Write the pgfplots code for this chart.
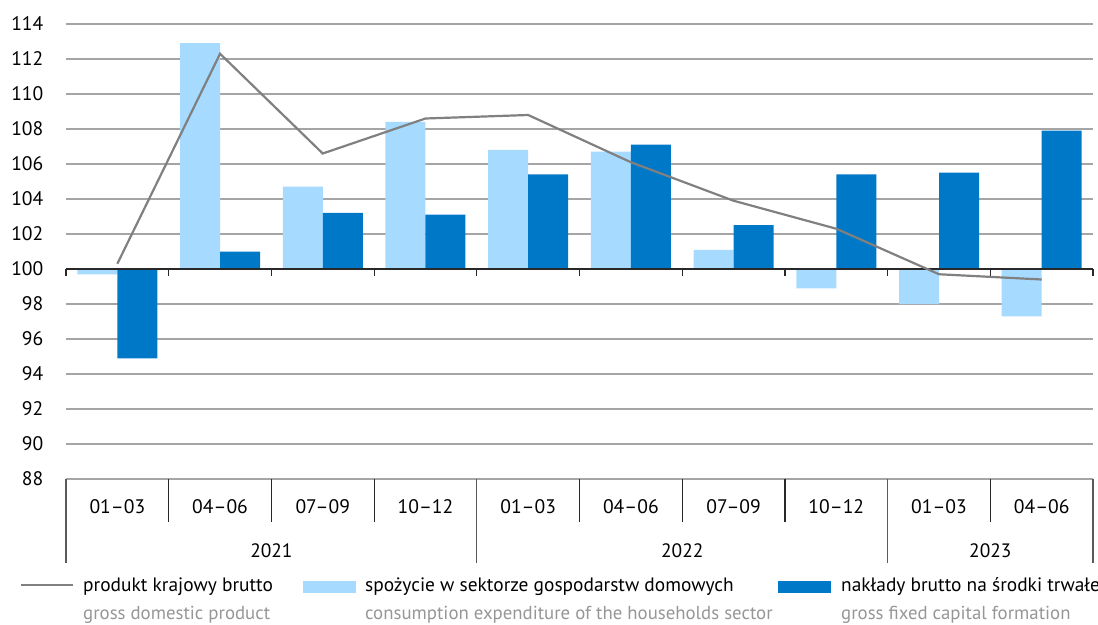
\documentclass[border=0pt]{standalone}
\usepackage{fontspec}
\setmainfont{PT Sans}
\usepackage{pgfplots}
\pgfplotsset{compat=1.18}
\usepackage{pgfplotstable}
\definecolor{lightb}{RGB}{166,219,255}
\definecolor{darkb}{RGB}{0,120,200}
\definecolor{gdpline}{RGB}{128,128,128}
\definecolor{gridc}{RGB}{165,165,165}
\definecolor{engc}{RGB}{150,150,150}
\definecolor{axc}{RGB}{40,40,40}
\definecolor{tabc}{RGB}{90,90,90}

\pgfplotstableread{
x gdp cons inv
0 100.3 99.7 94.9
1 112.3 112.9 101.0
2 106.6 104.7 103.2
3 108.6 108.4 103.1
4 108.8 106.8 105.4
5 106.1 106.7 107.1
6 103.9 101.1 102.5
7 102.3 98.9 105.4
8 99.7 98.0 105.5
9 99.4 97.3 107.9
}\data

\begin{document}
\begin{tikzpicture}[font=\fontsize{19.4}{23}\selectfont]
\useasboundingbox (-66pt,-145pt) rectangle (1032pt,479pt);
\begin{axis}[name=ax, at={(0pt,0pt)}, anchor=south west,
  scale only axis, width=1027pt, height=455pt,
  xmin=-0.5, xmax=9.5, ymin=-12, ymax=14,
  y filter/.expression={y-100},
  clip=false,
  axis line style={draw=none}, major tick length=0pt, tick style={draw=none},
  ytick={-12,-10,-8,-6,-4,-2,0,2,4,6,8,10,12,14},
  yticklabels={88,90,92,94,96,98,100,102,104,106,108,110,112,114},
  ymajorgrids, grid style={gridc, line width=1.2pt},
  xtick={0,1,2,3,4,5,6,7,8,9},
  xticklabels={01–03,04–06,07–09,10–12,01–03,04–06,07–09,10–12,01–03,04–06},
  tick label style={font=\fontsize{19.6}{23}\selectfont},
  xticklabel style={anchor=base, inner sep=0pt, yshift=-34.3pt},
  yticklabel style={anchor=base east, inner sep=0pt, xshift=-22.5pt, yshift=-6.9pt},
  bar width=40pt,
]
\addplot[ybar, bar shift=-20pt, fill=lightb, draw=none] table[x=x, y=cons]{\data};
\addplot[ybar, bar shift=20pt, fill=darkb, draw=none] table[x=x, y=inv]{\data};
% baseline at 100 with downward ticks
\draw[axc, line width=1.6pt] (rel axis cs:0,12/26) -- (rel axis cs:1,12/26);
\pgfplotsinvokeforeach{0,...,10}{
  \draw[axc, line width=1.2pt] (rel axis cs:#1/10,12/26) -- ++(0pt,-7pt);
}
\addplot[gdpline, line width=2.2pt, mark=none, sharp plot] table[x=x, y=gdp]{\data};
% category table below the plot
\pgfplotsinvokeforeach{1,2,3,5,6,7,9}{
  \draw[axc, line width=1.1pt] (rel axis cs:#1/10,0) -- ++(0pt,-42.7pt);
}
\pgfplotsinvokeforeach{0,4,8,10}{
  \draw[tabc, line width=1.3pt] (rel axis cs:#1/10,0) -- ++(0pt,-83.7pt);
}
\node[anchor=base, inner sep=0pt] at ([yshift=-78.3pt]rel axis cs:0.2,0) {2021};
\node[anchor=base, inner sep=0pt] at ([yshift=-78.3pt]rel axis cs:0.6,0) {2022};
\node[anchor=base, inner sep=0pt] at ([yshift=-78.3pt]rel axis cs:0.9,0) {2023};
% legend
\draw[gdpline, line width=2.2pt] ([xshift=-45pt, yshift=-106pt]rel axis cs:0,0) -- ([xshift=7pt, yshift=-106pt]rel axis cs:0,0);
\node[anchor=base west, inner sep=0pt] at ([xshift=17pt, yshift=-112.5pt]rel axis cs:0,0) {produkt krajowy brutto};
\node[anchor=base west, inner sep=0pt, text=engc, font=\fontsize{18.8}{23}\selectfont] at ([xshift=17pt, yshift=-140.5pt]rel axis cs:0,0) {gross domestic product};
\fill[lightb] ([xshift=237pt, yshift=-102pt]rel axis cs:0,0) rectangle ([xshift=290pt, yshift=-114pt]rel axis cs:0,0);
\node[anchor=base west, inner sep=0pt] at ([xshift=299pt, yshift=-112.5pt]rel axis cs:0,0) {spożycie w sektorze gospodarstw domowych};
\node[anchor=base west, inner sep=0pt, text=engc, font=\fontsize{18.8}{23}\selectfont] at ([xshift=299pt, yshift=-140.5pt]rel axis cs:0,0) {consumption expenditure of the households sector};
\fill[darkb] ([xshift=712pt, yshift=-102pt]rel axis cs:0,0) rectangle ([xshift=765pt, yshift=-114pt]rel axis cs:0,0);
\node[anchor=base west, inner sep=0pt] at ([xshift=775pt, yshift=-112.5pt]rel axis cs:0,0) {nakłady brutto na środki trwałe};
\node[anchor=base west, inner sep=0pt, text=engc, font=\fontsize{18.8}{23}\selectfont] at ([xshift=775pt, yshift=-140.5pt]rel axis cs:0,0) {gross fixed capital formation};
\end{axis}
\end{tikzpicture}
\end{document}
